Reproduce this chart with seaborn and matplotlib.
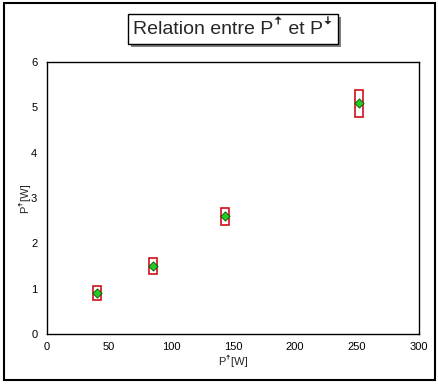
import matplotlib
matplotlib.use("Agg")
import matplotlib.pyplot as plt
from matplotlib.patches import Rectangle
import seaborn as sns
import pandas as pd

# Data
p_up = [40.3, 85.5, 143.5, 251.6]
p_down = [0.90, 1.50, 2.60, 5.09]
x_err = [3.4, 3.4, 3.4, 3.4]
y_err = [0.15, 0.17, 0.19, 0.30]
x_ticks = [0, 50, 100, 150, 200, 250, 300]
y_ticks = [0, 1, 2, 3, 4, 5, 6]
title = "Relation entre P\ua71b et P\ua71c"
x_label = "P\ua71b[W]"
y_label = "P\ua71b[W]"

sns.set_style("white")
plt.rcParams['font.family'] = ['Liberation Sans', 'DejaVu Sans']

W, H = 439, 387
fig = plt.figure(figsize=(W / 100, H / 100), dpi=100)
fig.patch.set_facecolor("white")
ax = fig.add_axes([47 / W, 1 - 334 / H, (419 - 47) / W, (334 - 62) / H])

df = pd.DataFrame({"x": p_up, "y": p_down})

# error boxes
for xi, yi, ex, ey in zip(p_up, p_down, x_err, y_err):
    ax.add_patch(Rectangle((xi - ex, yi - ey), 2 * ex, 2 * ey,
                           fill=False, edgecolor="#d0101a", linewidth=1.2, zorder=2))

sns.scatterplot(data=df, x="x", y="y", ax=ax, marker="D", s=22,
                color="#22cc22", edgecolor="#0a4a0a", linewidth=0.6, zorder=3)

ax.set_xlim(0, 300)
ax.set_ylim(0, 6)
ax.set_xticks(x_ticks)
ax.set_yticks(y_ticks)
ax.tick_params(axis="x", direction="in", length=4, width=0.8, labelsize=8, pad=6, colors="black")
ax.tick_params(axis="y", direction="out", length=3, width=0.8, labelsize=8, pad=4, colors="black")
for s in ax.spines.values():
    s.set_color("black")
    s.set_linewidth(1.0)
    s.set_visible(True)
ax.set_xlabel(x_label, fontsize=8, labelpad=2)
ax.set_ylabel(y_label, fontsize=8, labelpad=1)

# outer border
fig.add_artist(Rectangle((4 / W, 1 - 380 / H), 431 / W, 377 / H,
                         transform=fig.transFigure, fill=False,
                         edgecolor="black", linewidth=1.5))

# title box with shadow
bx0, bx1, by0, by1 = 128, 338, 14, 44
off = 3
fig.add_artist(Rectangle(((bx0 + off) / W, 1 - (by1 + off) / H), (bx1 - bx0) / W, (by1 - by0) / H,
                         transform=fig.transFigure, facecolor="#808080", edgecolor="none"))
fig.add_artist(Rectangle((bx0 / W, 1 - by1 / H), (bx1 - bx0) / W, (by1 - by0) / H,
                         transform=fig.transFigure, facecolor="white", edgecolor="black", linewidth=1.0))
fig.text((bx0 + bx1) / 2 / W, 1 - (by0 + by1) / 2 / H, title, ha="center", va="center",
         fontsize=14)

fig.savefig("out.png", dpi=100)
